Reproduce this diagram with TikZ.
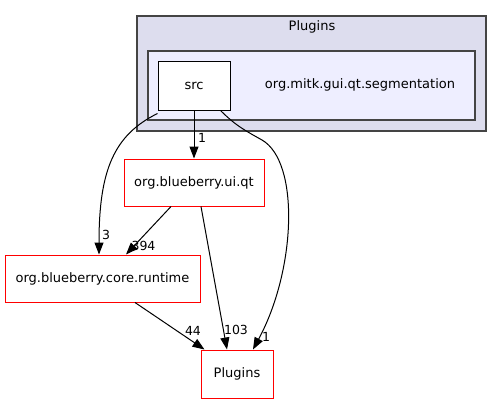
\documentclass[tikz,border=0pt]{standalone}
\usepackage{fontspec}
\setmainfont{DejaVu Sans}
\definecolor{outerfill}{HTML}{DDDDEE}
\definecolor{innerfill}{HTML}{EEEEFF}
\definecolor{frame}{HTML}{444444}
\usetikzlibrary{arrows.meta, positioning}

\begin{document}
\begin{tikzpicture}[
    x=1pt, y=-1pt,
    font=\fontsize{13}{15}\selectfont,
    cluster/.style={draw=frame, line width=1.2pt, fill=#1, inner sep=0pt},
    dirbox/.style={draw=red, line width=1pt, fill=white, inner sep=0pt,
                   minimum height=47pt},
    srcbox/.style={draw=black, line width=1pt, fill=white, inner sep=0pt,
                   minimum width=72pt, minimum height=48pt},
    arr/.style={-{Triangle[length=12pt,width=9pt]}, line width=1pt},
    lbl/.style={inner sep=0pt, font=\fontsize{12.5}{14}\selectfont}
  ]
    \useasboundingbox (0,0) rectangle (503,404);

    %% CLUSTERS
    \node[cluster=outerfill, minimum width=349pt, minimum height=115pt]
      (outer) at (311.5,73.5) {};
    \node[inner sep=0pt] (outertitle) at (312,27) {Plugins};
    \node[cluster=innerfill, minimum width=327pt, minimum height=69pt]
      (inner) at (311.5,85.5) {};
    \node[inner sep=0pt] (segname) at (360,85) {org.mitk.gui.qt.segmentation};

    %% DIRECTORIES
    \node[srcbox] (src) at (194,86) {src};
    \node[dirbox, minimum width=140pt] (uiqt) at (194,182.5) {org.blueberry.ui.qt};
    \node[dirbox, minimum width=195pt] (core) at (102.5,278.5) {org.blueberry.core.runtime};
    \node[dirbox, minimum width=72pt, minimum height=48pt] (plugins) at (237,374) {Plugins};

    %% ARROWS
    \draw[arr] (src) -- (uiqt);
    \draw[arr] ([yshift=-3pt]src.south west) .. controls (114,135) and (99,170)
      .. ([xshift=-3.5pt]core.north);
    \draw[arr] ([xshift=-23pt]uiqt.south) -- ([xshift=23.5pt]core.north);
    \draw[arr] ([xshift=7pt]uiqt.south) -- ([xshift=-10pt]plugins.north);
    \draw[arr] ([xshift=-10pt]src.south east) .. controls (236,126) and (246,131)
      .. (262,140) .. controls (300,162) and (296,270) .. ([xshift=16pt]plugins.north);
    \draw[arr] ([xshift=32.5pt]core.south) -- ([xshift=4pt]plugins.north west);

    %% EDGE LABELS
    \node[lbl] (l1) at (202,138) {1};
    \node[lbl] (l3) at (106,235) {3};
    \node[lbl] (l394) at (143.5,246) {394};
    \node[lbl] (l103) at (236,330) {103};
    \node[lbl] (l1b) at (266,337) {1};
    \node[lbl] (l44) at (193,331) {44};
  \end{tikzpicture}
\end{document}
